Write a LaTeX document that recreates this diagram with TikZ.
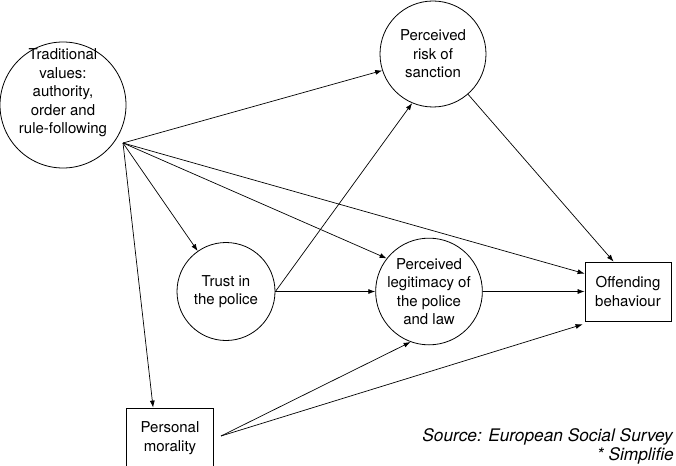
\documentclass[tikz,border=0pt]{standalone}
\usepackage{fontspec}
\setmainfont{TeX Gyre Heros}
\usetikzlibrary{arrows.meta,calc}
\begin{document}
\begin{tikzpicture}[x=1pt,y=-1pt,
  circ/.style={draw,circle,line width=0.8pt,inner sep=0pt,align=center,font=\fontsize{15}{18.5}\selectfont},
  boxn/.style={draw,rectangle,line width=0.8pt,inner sep=0pt,align=center,font=\fontsize{15}{18.5}\selectfont},
  txt/.style={align=center,inner sep=0pt,font=\fontsize{15}{18.5}\selectfont},
  note/.style={anchor=base east,inner sep=0pt,font=\fontsize{17.3}{20}\selectfont\itshape},
  arr/.style={-{Latex[length=7pt,width=5pt]},line width=0.7pt}]
\useasboundingbox (0,0) rectangle (676,465);
\node[circ,minimum size=126pt] (trad) at (63,105) {};
\node[txt] (tradt) at (63,93) {Traditional\\values:\\authority,\\order and\\rule-following};
\node[circ,minimum size=106pt] (risk) at (433,54) {Perceived\\risk of\\sanction};
\node[circ,minimum size=98pt] (trust) at (226,291.5) {Trust in\\the police};
\node[circ,minimum size=102pt] (legit) at (429,291.5) {Perceived\\legitimacy of\\the police\\and law};
\node[boxn,minimum width=86pt,minimum height=59pt] (off) at (628,291.5) {Offending\\behaviour};
\node[boxn,minimum width=87pt,minimum height=60pt] (mor) at (170,438) {Personal\\morality};
\coordinate (o) at (123,143);
\coordinate (m0) at (221,436);
\draw[arr] (o) -- (risk.198);
\draw[arr] (o) -- (trust.125);
\draw[arr] (o) -- (legit.142);
\draw[arr] (o) -- ($(off.north west)+(0,12)$);
\draw[arr] (o) -- ($(mor.north west)+(27,0)$);
\draw[arr] (trust.east) -- (risk.247);
\draw[arr] (trust.east) -- (legit.west);
\draw[arr] (legit.east) -- (off.west);
\draw[arr] (risk) -- ($(off.north west)+(29,0)$);
\draw[arr] (m0) -- (legit.250);
\draw[arr] (m0) -- ($(off.south west)+(-2,3)$);
\node[note] (src) at (673,441) {Source: European Social Survey};
\node[note] (simp) at (674,460) {* Simplifie};
\end{tikzpicture}
\end{document}
